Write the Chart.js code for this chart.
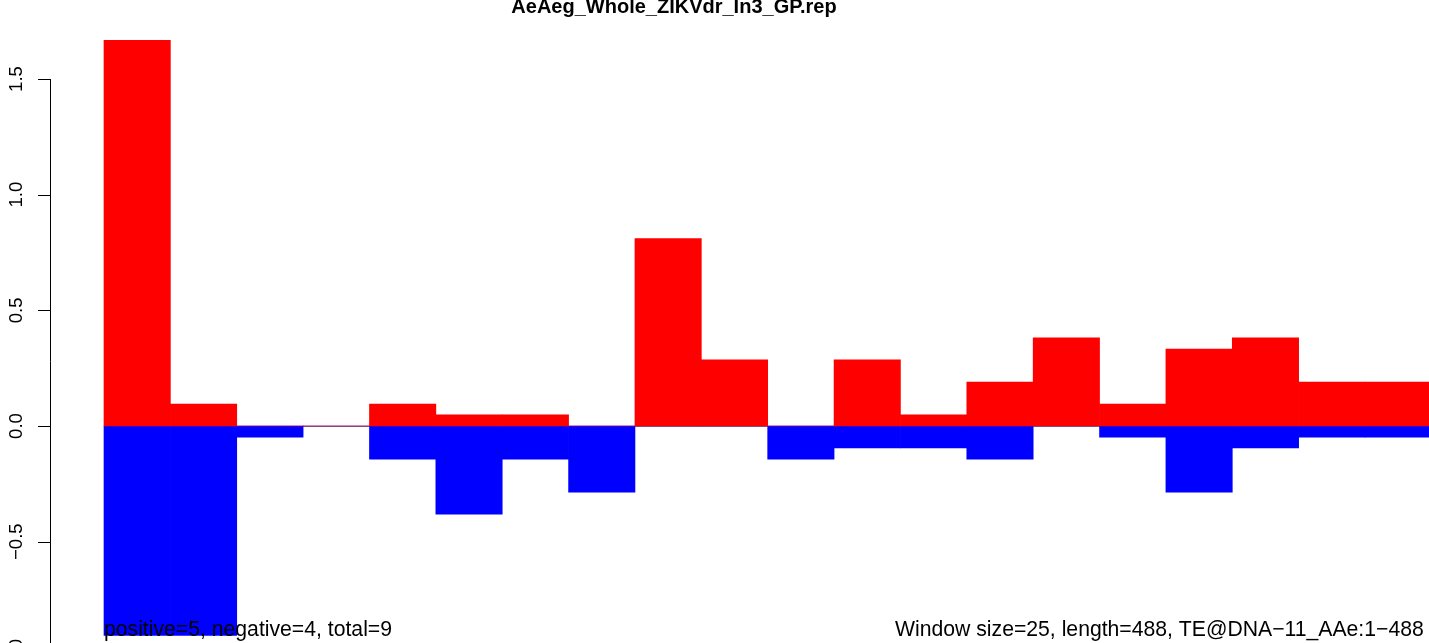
<!DOCTYPE html>
<html>
<head>
<meta charset="utf-8">
<script src="https://cdn.jsdelivr.net/npm/chart.js@4.4.1/dist/chart.umd.min.js"></script>
<style>
  html, body { margin: 0; padding: 0; background: #fff; overflow: hidden; }
  #wrap { width: 1429px; height: 643px; position: relative; }
</style>
</head>
<body>
<div id="wrap"><canvas id="c" width="1429" height="643"></canvas></div>
<script>
// ---- data ----
const chartTitle = "AeAeg_Whole_ZIKVdr_In3_GP.rep";
const windowIndex = [0,1,2,3,4,5,6,7,8,9,10,11,12,13,14,15,16,17,18,19];
const positiveValues = [1.667, 0.095, 0, 0, 0.095, 0.048, 0.048, 0, 0.810, 0.286, 0, 0.286, 0.048, 0.190, 0.381, 0.095, 0.333, 0.381, 0.190, 0.190];
const negativeValues = [-0.905, -0.905, -0.048, 0, -0.143, -0.381, -0.143, -0.286, 0, 0, -0.143, -0.095, -0.095, -0.143, 0, -0.048, -0.286, -0.095, -0.048, -0.048];
const yTickValues = [-1.0, -0.5, 0.0, 0.5, 1.0, 1.5];
const yTickLabels = ["\u22121.0", "\u22120.5", "0.0", "0.5", "1.0", "1.5"];
const leftNote = "positive=5, negative=4, total=9";
const rightNote = "Window size=25, length=488, TE@DNA\u221211_AAe:1\u2212488";

const FONT = '"Liberation Sans", Arial, Helvetica, sans-serif';

const rDecor = {
  id: 'rDecor',
  beforeDatasetsDraw(chart) {
    const ctx = chart.ctx, xs = chart.scales.x, ys = chart.scales.y;
    const y0 = Math.round(ys.getPixelForValue(0)) + 0.5;
    ctx.save();
    ctx.strokeStyle = '#808080';
    ctx.lineWidth = 1;
    ctx.beginPath();
    ctx.moveTo(xs.getPixelForValue(windowIndex[0] - 0.5), y0);
    ctx.lineTo(chart.chartArea.right, y0);
    ctx.stroke();
    ctx.restore();
  },
  afterDraw(chart) {
    const ctx = chart.ctx, ys = chart.scales.y;
    ctx.save();
    const ax = 50.5;
    ctx.strokeStyle = '#000';
    ctx.lineWidth = 1;
    ctx.beginPath();
    ctx.moveTo(ax, ys.getPixelForValue(yTickValues[0]));
    ctx.lineTo(ax, ys.getPixelForValue(yTickValues[yTickValues.length - 1]));
    ctx.stroke();
    ctx.fillStyle = '#000';
    ctx.font = '18.6px ' + FONT;
    ctx.textAlign = 'center';
    ctx.textBaseline = 'alphabetic';
    yTickValues.forEach((v, i) => {
      const py = Math.round(ys.getPixelForValue(v)) + 0.5;
      ctx.beginPath();
      ctx.moveTo(38, py);
      ctx.lineTo(ax, py);
      ctx.stroke();
      ctx.save();
      ctx.translate(22, ys.getPixelForValue(v));
      ctx.rotate(-Math.PI / 2);
      ctx.fillText(yTickLabels[i], 0, 0);
      ctx.restore();
    });
    ctx.font = 'bold 20px ' + FONT;
    ctx.textAlign = 'center';
    ctx.fillText(chartTitle, 674, 13);
    ctx.font = '21.2px ' + FONT;
    ctx.textAlign = 'left';
    ctx.fillText(leftNote, 104, 636);
    ctx.fillText(rightNote, 895, 636);
    ctx.restore();
  }
};

new Chart(document.getElementById('c'), {
  type: 'bar',
  data: {
    datasets: [
      {
        label: 'positive',
        data: windowIndex.map((x, i) => ({ x: x, y: positiveValues[i] })),
        backgroundColor: '#ff0000',
        borderWidth: 0,
        barPercentage: 1,
        categoryPercentage: 1
      },
      {
        label: 'negative',
        data: windowIndex.map((x, i) => ({ x: x, y: negativeValues[i] })),
        backgroundColor: '#0000ff',
        borderWidth: 0,
        barPercentage: 1,
        categoryPercentage: 1
      }
    ]
  },
  options: {
    responsive: false,
    animation: false,
    maintainAspectRatio: false,
    grouped: false,
    layout: { padding: { left: 50, right: 0, top: 0, bottom: 0 } },
    plugins: { legend: { display: false }, title: { display: false }, tooltip: { enabled: false } },
    scales: {
      x: { type: 'linear', display: false, offset: false, min: -1.3136, max: 19.464, grid: { display: false } },
      y: { display: false, min: -0.938, max: 1.8415, grid: { display: false } }
    }
  },
  plugins: [rDecor]
});
</script>
</body>
</html>
